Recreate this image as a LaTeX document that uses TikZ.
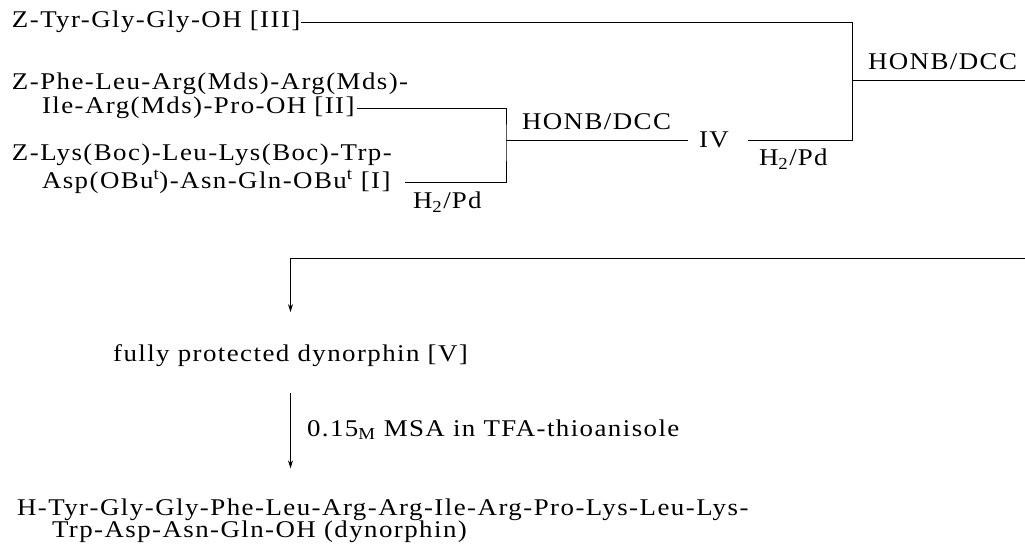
\documentclass[tikz,border=0pt]{standalone}
\usepackage{fontspec}
\setmainfont{Liberation Serif}[FakeStretch=1.12,LetterSpace=6]
\usetikzlibrary{arrows.meta}
\newcommand\hy{\kern1.5pt-\kern1.5pt}
\tikzset{
  txt/.style={inner sep=0pt, outer sep=0pt, anchor=base west, font=\fontsize{24pt}{28pt}\selectfont},
  ln/.style={line width=0.8pt, black},
  arr/.style={ln, -{Stealth[length=8pt,width=5pt]}}
}
\begin{document}
\begin{tikzpicture}[x=1pt,y=-1pt]
\useasboundingbox[fill=white] (0,0) rectangle (1025,545);

% starting peptides
\node[txt] (t3)  at (12,28)  {Z-Tyr-Gly-Gly-OH [III]};
\node[txt] (t2a) at (12,90)  {Z-Phe-Leu-Arg(Mds)-Arg(Mds)-};
\node[txt] (t2b) at (42,114) {Ile-Arg(Mds)-Pro-OH [II]};
\node[txt] (t1a) at (12,161) {Z-Lys(Boc)-Leu-Lys(Boc)-Trp-};
\node[txt] (t1b) at (42,189) {Asp(OBu\textsuperscript{t})-Asn-Gln-OBu\textsuperscript{t} [I]};

% reagents and intermediates
\node[txt] (hon1) at (522,130) {HONB/DCC};
\node[txt] (hon2) at (868,70)  {HONB/DCC};
\node[txt] (h2a)  at (413,209) {H\textsubscript{2}\kern1pt/\kern1ptPd};
\node[txt] (h2b)  at (759,166) {H\textsubscript{2}\kern1pt/\kern1ptPd};
\node[txt,anchor=center] (iv) at (714,140) {IV};

\coordinate (j1) at (506,140);
\coordinate (j2) at (852,80);
\coordinate (e1) at (1025,80);
\coordinate (e2) at (1025,258);

% fully protected and final product
\node[txt,anchor=base] (v) at (290.5,361) {fully protected dynorphin [V]};
\node[txt] (lab) at (307,436) {0.15\textsubscript{M} MSA in TFA-thioanisole};
\node[txt] (f1) at (17,515) {H\hy Tyr\hy Gly\hy Gly\hy Phe\hy Leu\hy Arg\hy Arg\hy Ile\hy Arg\hy Pro\hy Lys\hy Leu\hy Lys\hy};
\node[txt] (f2) at (52,537) {Trp-Asp-Asn-Gln-OH (dynorphin)};

% connectors
\draw[ln] ([xshift=2pt]t2b.east) -| (j1) |- ([xshift=14pt]t1b.east);
\draw[ln, shorten >=11pt] (j1) -- (iv.west);
\draw[ln] ([xshift=1pt]t3.east) -| (j2) |- ([xshift=19pt]iv.east);
\draw[ln] (j2) -- (e1);
\draw[arr, shorten >=32pt] (e2) -| (v.north);
\draw[arr, shorten <=27pt, shorten >=30pt] (v.south) -- (v.south |- f1.north);
\end{tikzpicture}
\end{document}
